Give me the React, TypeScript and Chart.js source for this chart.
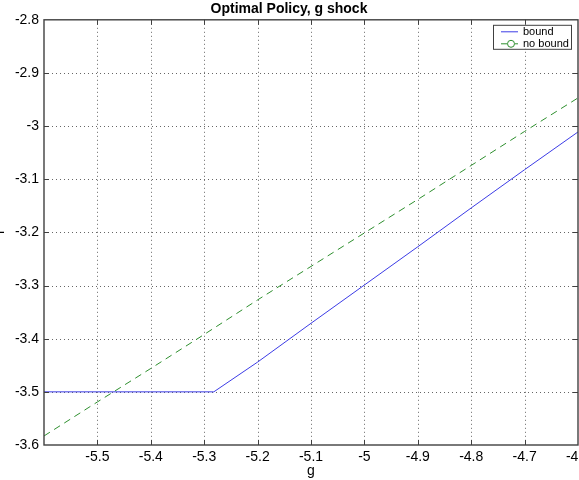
import { useEffect, useRef } from "react";
import { Chart, registerables } from "chart.js";

Chart.register(...registerables);

const TITLE = "Optimal Policy, g shock";
const X_LABEL = "g";
const Y_LABEL = "i";
const SERIES_NAMES = ["bound", "no bound"];

const gBound = [-5.6, -5.5, -5.4, -5.3, -5.282, -5.2, -5.1, -5.0, -4.9, -4.8, -4.7, -4.6];
const iBound = [-3.5, -3.5, -3.5, -3.5, -3.5, -3.444, -3.371, -3.299, -3.227, -3.154, -3.082, -3.011];

const gNoBound = [-5.6, -5.5, -5.4, -5.3, -5.2, -5.1, -5.0, -4.9, -4.8, -4.7, -4.6];
const iNoBound = [-3.583, -3.519, -3.456, -3.392, -3.327, -3.264, -3.201, -3.138, -3.074, -3.01, -2.947];

const X_MIN = -5.6;
const X_MAX = -4.6;
const Y_MIN = -3.6;
const Y_MAX = -2.8;
const TICK_STEP = 0.1;

const FONT = "'Liberation Sans', Arial, Helvetica, sans-serif";
const AXIS_COLOR = "#404040";
const BLUE = "#3c3ce6";
const GREEN = "#2e8f2e";

const fmt = (v: number) => String(parseFloat(Number(v).toFixed(2)));

const matlabAxes = {
  id: "matlabAxes",
  beforeDatasetsDraw(chart: any) {
    const { ctx, chartArea: a, scales } = chart;
    const xs = scales.x;
    const ys = scales.y;
    ctx.save();
    ctx.strokeStyle = "#666";
    ctx.lineWidth = 1;
    ctx.setLineDash([1, 3]);
    xs.ticks.forEach((t: any) => {
      const px = Math.round(xs.getPixelForValue(t.value)) + 0.5;
      if (px <= a.left + 2 || px >= a.right - 2) return;
      ctx.beginPath();
      ctx.moveTo(px, a.top);
      ctx.lineTo(px, a.bottom);
      ctx.stroke();
    });
    ys.ticks.forEach((t: any) => {
      const py = Math.round(ys.getPixelForValue(t.value)) + 0.5;
      if (py <= a.top + 2 || py >= a.bottom - 2) return;
      ctx.beginPath();
      ctx.moveTo(a.left, py);
      ctx.lineTo(a.right, py);
      ctx.stroke();
    });
    ctx.restore();
  },
  afterDatasetsDraw(chart: any) {
    const { ctx, chartArea: a, scales } = chart;
    const xs = scales.x;
    const ys = scales.y;
    ctx.save();
    ctx.setLineDash([]);
    ctx.strokeStyle = AXIS_COLOR;
    ctx.lineWidth = 1.4;
    ctx.strokeRect(a.left, a.top, a.right - a.left, a.bottom - a.top);
    const tl = 5;
    ctx.lineWidth = 1;
    xs.ticks.forEach((t: any) => {
      const px = Math.round(xs.getPixelForValue(t.value)) + 0.5;
      if (px <= a.left + 2 || px >= a.right - 2) return;
      ctx.beginPath();
      ctx.moveTo(px, a.bottom);
      ctx.lineTo(px, a.bottom - tl);
      ctx.moveTo(px, a.top);
      ctx.lineTo(px, a.top + tl);
      ctx.stroke();
    });
    ys.ticks.forEach((t: any) => {
      const py = Math.round(ys.getPixelForValue(t.value)) + 0.5;
      if (py <= a.top + 2 || py >= a.bottom - 2) return;
      ctx.beginPath();
      ctx.moveTo(a.left, py);
      ctx.lineTo(a.left + tl, py);
      ctx.moveTo(a.right, py);
      ctx.lineTo(a.right - tl, py);
      ctx.stroke();
    });

    // legend
    const ds = chart.data.datasets;
    const lx = a.right - 85;
    const ly = a.top + 5;
    const lw = 78;
    const lh = 24;
    ctx.fillStyle = "#fff";
    ctx.fillRect(lx, ly, lw, lh);
    ctx.strokeStyle = AXIS_COLOR;
    ctx.lineWidth = 1;
    ctx.strokeRect(lx + 0.5, ly + 0.5, lw, lh);
    ctx.font = `11px ${FONT}`;
    ctx.textBaseline = "middle";
    ctx.textAlign = "left";
    ds.forEach((d: any, i: number) => {
      const yy = ly + 7 + i * 12;
      ctx.strokeStyle = d.borderColor;
      ctx.lineWidth = 1;
      ctx.setLineDash([]);
      if (d.borderDash && d.borderDash.length) {
        ctx.beginPath();
        ctx.moveTo(lx + 8, yy);
        ctx.lineTo(lx + 14, yy);
        ctx.moveTo(lx + 22, yy);
        ctx.lineTo(lx + 25, yy);
        ctx.stroke();
        ctx.beginPath();
        ctx.arc(lx + 18, yy, 3.5, 0, Math.PI * 2);
        ctx.stroke();
      } else {
        ctx.beginPath();
        ctx.moveTo(lx + 8, yy);
        ctx.lineTo(lx + 25, yy);
        ctx.stroke();
      }
      ctx.fillStyle = "#000";
      ctx.fillText(d.label, lx + 30, yy);
    });
    ctx.restore();
  },
  afterDraw(chart: any) {
    const { ctx, chartArea: a } = chart;
    ctx.save();
    ctx.translate(4, (a.top + a.bottom) / 2);
    ctx.rotate(-Math.PI / 2);
    ctx.font = `14px ${FONT}`;
    ctx.fillStyle = "#000";
    ctx.textAlign = "center";
    ctx.textBaseline = "alphabetic";
    ctx.fillText(Y_LABEL, 0, 0);
    ctx.restore();
  },
};

export default function App() {
  const ref = useRef<HTMLCanvasElement | null>(null);
  useEffect(() => {
    document.body.style.margin = "0";
    const canvas = ref.current;
    if (!canvas) return;
    const chart = new Chart(canvas, {
      type: "line",
      data: {
        datasets: [
          {
            label: SERIES_NAMES[0],
            data: gBound.map((g, i) => ({ x: g, y: iBound[i] })),
            borderColor: BLUE,
            borderWidth: 1,
            pointRadius: 0,
            tension: 0,
            fill: false,
          },
          {
            label: SERIES_NAMES[1],
            data: gNoBound.map((g, i) => ({ x: g, y: iNoBound[i] })),
            borderColor: GREEN,
            borderWidth: 1,
            borderDash: [7, 5],
            pointRadius: 0,
            tension: 0,
            fill: false,
          },
        ],
      },
      options: {
        animation: false,
        responsive: false,
        devicePixelRatio: 1,
        layout: { padding: { top: 0, right: 1, left: 0, bottom: 0 } },
        plugins: {
          legend: { display: false },
          tooltip: { enabled: false },
          title: {
            display: true,
            text: TITLE,
            color: "#000",
            font: { family: FONT, size: 14, weight: "bold" },
            padding: { top: 1, bottom: 2 },
          },
        },
        scales: {
          x: {
            type: "linear",
            min: X_MIN,
            max: X_MAX,
            grid: { display: false, drawTicks: false },
            border: { display: false },
            ticks: {
              stepSize: TICK_STEP,
              color: "#000",
              padding: 4,
              maxRotation: 0,
              autoSkip: false,
              font: { family: FONT, size: 14 },
              callback: (v: any) => (Math.abs(Number(v) - X_MIN) < 1e-9 ? "" : fmt(v)),
            },
            title: {
              display: true,
              text: X_LABEL,
              color: "#000",
              font: { family: FONT, size: 14 },
              padding: { top: 0, bottom: 0 },
            },
            afterFit: (s: any) => {
              s.height = 35;
              s.paddingLeft = 0;
              s.paddingRight = 0;
            },
          },
          y: {
            type: "linear",
            min: Y_MIN,
            max: Y_MAX,
            grid: { display: false, drawTicks: false },
            border: { display: false },
            ticks: {
              stepSize: TICK_STEP,
              color: "#000",
              padding: 5,
              autoSkip: false,
              font: { family: FONT, size: 14 },
              callback: (v: any) => fmt(v),
            },
            afterFit: (s: any) => {
              s.width = 44;
              s.paddingTop = 0;
              s.paddingBottom = 0;
            },
          },
        },
      },
      plugins: [matlabAxes],
    } as any);
    return () => chart.destroy();
  }, []);
  return (
    <div style={{ width: 579, height: 480 }}>
      <canvas ref={ref} width={579} height={480} style={{ width: 579, height: 480, display: "block" }} />
    </div>
  );
}
